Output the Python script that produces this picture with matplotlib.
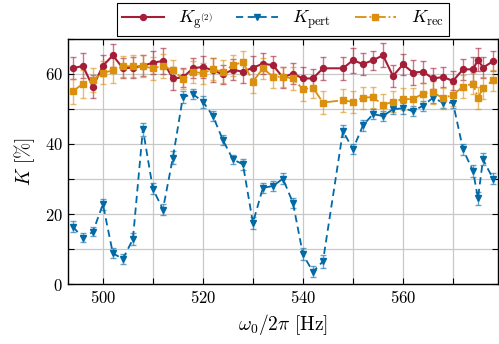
import numpy as np
import matplotlib
matplotlib.use("Agg")
import matplotlib.pyplot as plt
from matplotlib.ticker import MultipleLocator

# frequency omega_0 / 2pi in Hz
freq = [494, 496, 498, 500, 502, 504, 506, 508, 510, 512, 514, 516, 518, 520,
        522, 524, 526, 528, 530, 532, 534, 536, 538, 540, 542, 544, 548, 550,
        552, 554, 556, 558, 560, 562, 564, 566, 568, 570, 572, 574, 575, 576, 578]

# K from g2 measurement
k_g2 = [61.6, 62.3, 56.3, 62.3, 65.3, 61.6, 61.8, 62.3, 63.2, 63.7, 58.7, 59.0,
        61.6, 62.0, 61.0, 59.9, 61.2, 60.6, 61.8, 62.9, 62.5, 59.0, 60.1, 58.7,
        58.7, 61.6, 61.6, 63.9, 62.8, 63.9, 65.3, 59.4, 62.7, 60.4, 60.6, 58.7,
        59.1, 58.0, 61.3, 61.3, 64.0, 61.8, 63.6]
k_g2_err = [3.1, 3.6, 3.3, 3.0, 3.3, 2.8, 2.9, 3.0, 3.2, 3.6, 3.3, 2.6,
            2.8, 3.2, 3.4, 2.7, 3.0, 3.3, 3.3, 3.0, 2.6, 3.1, 2.9, 3.2,
            2.8, 3.3, 3.3, 3.6, 3.1, 2.7, 3.4, 3.2, 3.0, 3.5, 3.2, 3.0,
            2.8, 2.7, 3.0, 3.4, 3.3, 3.1, 2.8]

# K from perturbation
k_pert = [16.4, 13.2, 14.9, 22.8, 8.8, 7.2, 12.8, 44.2, 27.2, 21.3, 36.1, 53.4,
          54.2, 52.1, 48.0, 41.1, 35.6, 34.2, 17.5, 27.5, 28.0, 30.1, 23.2, 8.5,
          3.5, 6.5, 43.7, 38.5, 45.3, 48.5, 48.0, 49.9, 50.2, 49.4, 50.9, 53.2,
          51.8, 51.8, 38.5, 32.3, 24.5, 35.6, 30.1]
k_pert_err = [1.6, 1.3, 1.3, 1.5, 1.4, 1.5, 1.7, 1.8, 1.6, 1.5, 1.8, 1.6,
              1.5, 1.7, 1.5, 1.5, 1.4, 1.6, 1.7, 1.5, 1.4, 1.6, 1.5, 1.7,
              1.6, 1.8, 1.6, 1.4, 1.6, 1.5, 1.5, 1.4, 1.5, 1.4, 1.5, 1.6,
              1.5, 1.5, 1.6, 1.6, 1.8, 1.7, 1.6]

# K from reconstruction
k_rec = [55.0, 57.2, 58.2, 60.3, 61.0, 62.2, 62.2, 62.2, 61.6, 62.3, 61.0, 58.5,
         60.6, 60.2, 61.3, 60.6, 62.5, 63.4, 57.8, 61.6, 59.2, 59.2, 58.7, 55.6,
         56.1, 51.8, 52.5, 52.0, 53.2, 53.4, 51.1, 52.1, 52.8, 52.8, 54.4, 54.7,
         53.1, 54.0, 56.4, 57.2, 53.2, 55.9, 58.2]
k_rec_err = [3.6, 4.0, 3.4, 3.3, 3.5, 3.0, 3.2, 3.1, 3.3, 3.4, 3.0, 2.9,
             3.2, 3.0, 3.1, 3.3, 3.0, 3.1, 3.3, 3.0, 3.1, 2.9, 3.2, 3.3,
             3.0, 3.2, 3.3, 3.1, 3.2, 3.0, 3.2, 3.1, 3.2, 3.3, 3.1, 3.2,
             3.0, 3.1, 3.3, 3.0, 3.2, 3.1, 3.0]

red = "#A51E37"
blue = "#0069A6"
orange = "#DA8F0E"

plt.rcParams.update({
    "font.family": "serif",
    "font.serif": ["cmr10", "DejaVu Serif"],
    "mathtext.fontset": "cm",
    "axes.formatter.use_mathtext": True,
    "font.size": 12,
})

fig = plt.figure(figsize=(4.99, 3.44), dpi=100)
ax = fig.add_axes([0.136, 0.174, 0.862, 0.713])

series = [
    (k_g2, k_g2_err, red, "-", "o", 4.3, 1.5, r"$K_{\mathrm{g}^{(2)}}$"),
    (k_pert, k_pert_err, blue, (0, (4, 2.5)), "v", 5.0, 1.3, r"$K_{\mathrm{pert}}$"),
    (k_rec, k_rec_err, orange, "-.", "s", 4.5, 1.3, r"$K_{\mathrm{rec}}$"),
]

for vals, errs, col, ls, mk, ms, lw, lab in series:
    ax.errorbar(freq, vals, yerr=errs, fmt="none", ecolor=col, alpha=0.6,
                elinewidth=1.0, capsize=2.5, capthick=1.0, zorder=2)
    ax.plot(freq, vals, color=col, linestyle=ls, marker=mk, markersize=ms,
            linewidth=lw, label=lab, zorder=3)

ax.set_xlim(493, 579)
ax.set_ylim(0, 70)
ax.xaxis.set_major_locator(MultipleLocator(20))
ax.xaxis.set_minor_locator(MultipleLocator(10))
ax.yaxis.set_major_locator(MultipleLocator(20))
ax.yaxis.set_minor_locator(MultipleLocator(10))
ax.grid(True, which="both", color="#c8c8c8", linewidth=0.9)
ax.set_axisbelow(True)
ax.tick_params(which="both", direction="in", top=True, right=True, length=4,
               width=0.8)

for sp in ax.spines.values():
    sp.set_linewidth(1.0)

ax.set_xlabel(r"$\omega_0/2\pi\ [\mathrm{Hz}]$", labelpad=4, fontsize=14)
ax.set_ylabel(r"$K\ [\%]$", labelpad=6, fontsize=14)

leg = ax.legend(loc="lower center", bbox_to_anchor=(0.5, 1.01), ncol=3,
                fancybox=False, edgecolor="black", framealpha=1,
                handlelength=2.3, numpoints=1, borderaxespad=0.0,
                columnspacing=1.3, fontsize=13, borderpad=0.3,
                handletextpad=0.8)
leg.get_frame().set_linewidth(0.8)

fig.savefig("out.png", dpi=100)
